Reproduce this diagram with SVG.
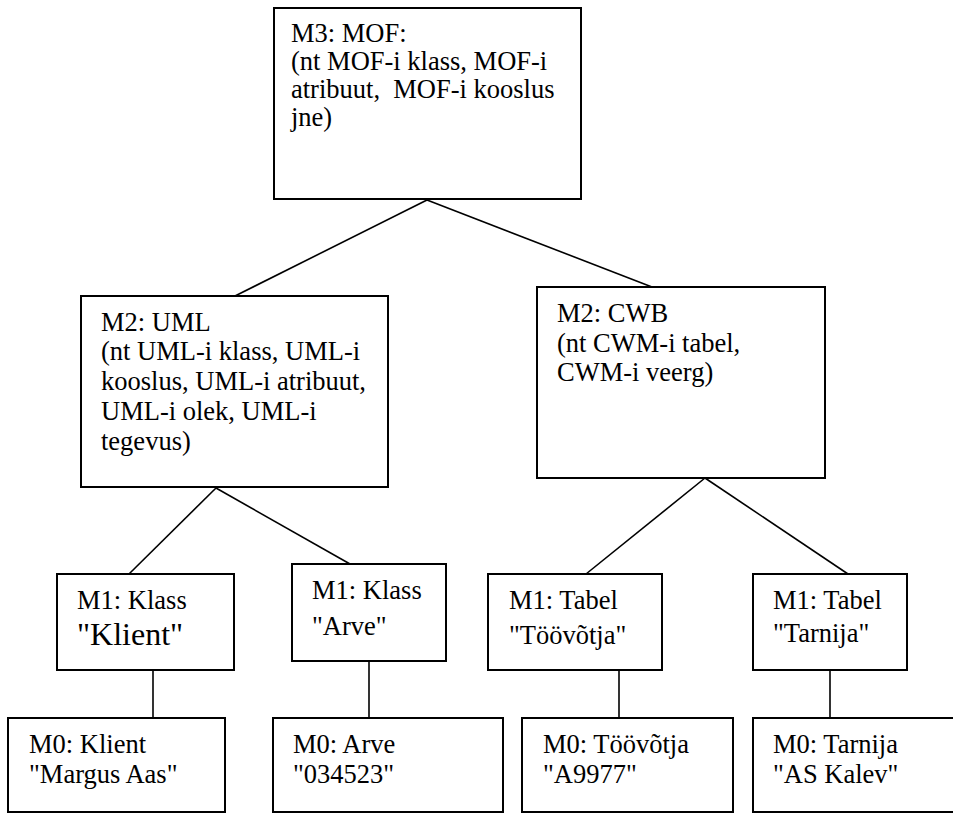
<svg xmlns="http://www.w3.org/2000/svg" width="953" height="814" viewBox="0 0 953 814">
<style>
  .box { fill: #ffffff; stroke: #000000; stroke-width: 2; }
  .edge { stroke: #000000; stroke-width: 1.6; fill: none; }
  .lbl { font-size: 26.5px; fill: #000000; }
  .big { font-size: 32px; }
</style>
<rect width="953" height="814" fill="#ffffff"/>
<g id="connectors">
  <line class="edge" x1="427" y1="200" x2="235" y2="296"/>
  <line class="edge" x1="427" y1="200" x2="652" y2="287"/>
  <line class="edge" x1="216" y1="488" x2="129" y2="574"/>
  <line class="edge" x1="216" y1="488" x2="350" y2="564"/>
  <line class="edge" x1="705" y1="478" x2="586" y2="574"/>
  <line class="edge" x1="705" y1="478" x2="848" y2="574"/>
  <line class="edge" x1="153" y1="670" x2="153" y2="718"/>
  <line class="edge" x1="369" y1="661" x2="369" y2="718"/>
  <line class="edge" x1="619" y1="670" x2="619" y2="718"/>
  <line class="edge" x1="830" y1="670" x2="830" y2="718"/>
</g>
<g class="lbl" font-family="'Liberation Serif', Tinos, 'Times New Roman', 'Nimbus Roman', serif">
<g id="m3-mof">
  <rect class="box" x="274" y="8" width="307" height="191"/>
  <text x="291" y="42">M3: MOF:</text>
  <text x="291" y="70">(nt MOF-i klass, MOF-i</text>
  <text x="291" y="98" xml:space="preserve">atribuut,  MOF-i kooslus</text>
  <text x="291" y="126">jne)</text>
</g>
<g id="m2-uml">
  <rect class="box" x="81" y="296" width="307" height="191"/>
  <text x="101" y="331">M2: UML</text>
  <text x="101" y="360">(nt UML-i klass, UML-i</text>
  <text x="101" y="390">kooslus, UML-i atribuut,</text>
  <text x="101" y="420">UML-i olek, UML-i</text>
  <text x="101" y="450">tegevus)</text>
</g>
<g id="m2-cwb">
  <rect class="box" x="537" y="287" width="288" height="191"/>
  <text x="557" y="322">M2: CWB</text>
  <text x="557" y="352">(nt CWM-i tabel,</text>
  <text x="557" y="381">CWM-i veerg)</text>
</g>
<g id="m1-klient">
  <rect class="box" x="57" y="574" width="177" height="96"/>
  <text x="77" y="609">M1: Klass</text>
  <text class="big" x="77" y="645">"Klient"</text>
</g>
<g id="m1-arve">
  <rect class="box" x="292" y="564" width="154" height="97"/>
  <text x="312" y="599">M1: Klass</text>
  <text x="312" y="635">"Arve"</text>
</g>
<g id="m1-toovotja">
  <rect class="box" x="488" y="574" width="174" height="96"/>
  <text x="509" y="609">M1: Tabel</text>
  <text x="509" y="644">"Töövõtja"</text>
</g>
<g id="m1-tarnija">
  <rect class="box" x="753" y="574" width="154" height="96"/>
  <text x="773" y="609">M1: Tabel</text>
  <text x="773" y="642">"Tarnija"</text>
</g>
<g id="m0-klient">
  <rect class="box" x="8" y="718" width="217" height="94"/>
  <text x="29" y="753">M0: Klient</text>
  <text x="29" y="783">"Margus Aas"</text>
</g>
<g id="m0-arve">
  <rect class="box" x="273" y="718" width="230" height="94"/>
  <text x="293" y="753">M0: Arve</text>
  <text x="293" y="783">"034523"</text>
</g>
<g id="m0-toovotja">
  <rect class="box" x="522" y="718" width="211" height="94"/>
  <text x="543" y="753">M0: Töövõtja</text>
  <text x="543" y="783">"A9977"</text>
</g>
<g id="m0-tarnija">
  <rect class="box" x="753" y="718" width="210" height="94"/>
  <text x="773" y="753">M0: Tarnija</text>
  <text x="773" y="783">"AS Kalev"</text>
</g>
</g>
</svg>
